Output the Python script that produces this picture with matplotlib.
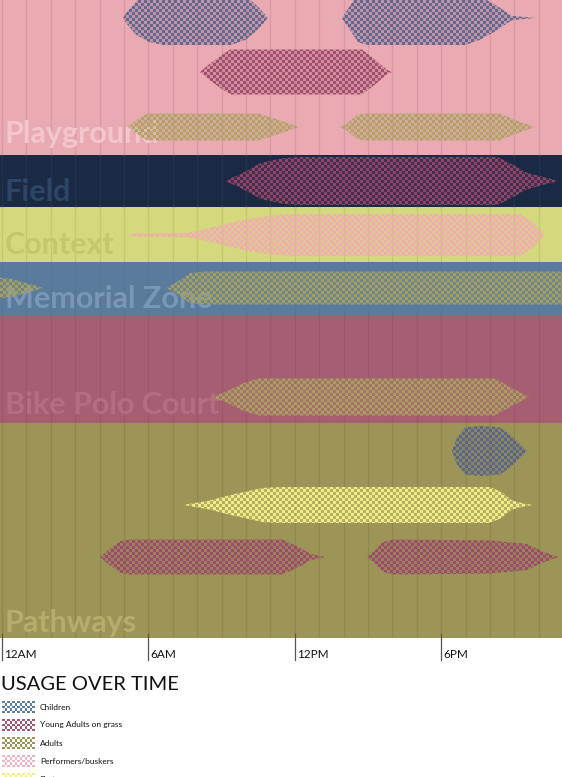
import numpy as np
import matplotlib
matplotlib.use("Agg")
import matplotlib.pyplot as plt
from matplotlib.patches import Polygon
from matplotlib.colors import to_rgba

W, H = 562, 777
PLOT_BOTTOM = 638                      # px from the top where the zone stack ends
HOUR_MIN, HOUR_MAX = -0.08, 22.95      # visible stretch of the day
CELL = 3                               # checker cell size in px

# ---- zones -------------------------------------------------------------
zones = ["Playground", "Field", "Context", "Memorial Zone", "Bike Polo Court", "Pathways"]
zone_edges = [0, 155, 207, 262, 315, 423, 638]
zone_colors = ["#E9AAB2", "#1B2A44", "#D3D97C", "#5B7B9C", "#A65F72", "#9D9558"]
zone_grid_colors = ["#D79AA3", "#22324D", "#C3C96F", "#56769A", "#9C586B", "#8D864D"]
zone_label_colors = ["#F3C6CD", "#2D4667", "#C4C76D", "#7A97B6", "#B36F81", "#B6AD6C"]
zone_label_baselines = [143, 201, 254, 308, 414, 632]

# ---- user groups ---------------------------------------------------------
groups = ["Children", "Young Adults on grass", "Adults", "Performers/buskers", "Skaters"]
group_colors = ["#56628C", "#9C466A", "#AAA35E", "#F5A6BA", "#FBF58A"]
legend_colors = ["#5A7FA6", "#A8566F", "#9C9656", "#EDB6C3", "#F4F07C"]

# ---- usage profiles: hour of day -> relative crowd level -----------------
pg_children_am_hours = [4.96, 5.1, 5.5, 6.0, 6.6, 9.4, 10.0, 10.5, 10.9]
pg_children_am_level = [0.0, 0.2, 0.62, 0.88, 1.0, 1.0, 0.8, 0.42, 0.0]
pg_children_pm_hours = [13.93, 14.3, 14.6, 15.0, 19.0, 19.6, 20.2, 20.9, 21.85]
pg_children_pm_level = [0.0, 0.5, 0.9, 1.0, 1.0, 0.8, 0.5, 0.08, 0.0]
pg_young_hours = [8.11, 8.5, 9.0, 9.35, 14.75, 15.3, 15.78, 15.98]
pg_young_level = [0.0, 0.35, 0.75, 1.0, 1.0, 0.55, 0.1, 0.0]
pg_adults_am_hours = [5.16, 5.5, 5.95, 10.5, 11.3, 12.0, 12.2]
pg_adults_am_level = [0.0, 0.5, 1.0, 1.0, 0.55, 0.1, 0.0]
pg_adults_pm_hours = [13.77, 14.1, 14.55, 14.9, 20.4, 21.0, 21.6, 21.85]
pg_adults_pm_level = [0.0, 0.2, 0.9, 1.0, 1.0, 0.55, 0.15, 0.0]
field_young_hours = [9.14, 9.8, 10.6, 11.5, 12.2, 20.3, 20.9, 21.5, 22.8]
field_young_level = [0.0, 0.3, 0.75, 0.95, 1.0, 1.0, 0.7, 0.35, 0.0]
context_perf_hours = [5.16, 5.5, 7.6, 8.6, 10.0, 11.2, 12.0, 21.2, 21.8, 22.25]
context_perf_level = [0.0, 0.08, 0.1, 0.35, 0.75, 0.95, 1.0, 1.0, 0.6, 0.0]
memorial_adults_night_hours = [-0.2, 0.4, 1.0, 1.7]
memorial_adults_night_level = [0.65, 0.55, 0.3, 0.0]
memorial_adults_day_hours = [6.75, 7.2, 7.7, 8.3, 23.5]
memorial_adults_day_level = [0.0, 0.4, 0.9, 1.0, 1.0]
polo_adults_hours = [8.6, 9.2, 9.9, 10.5, 20.2, 20.8, 21.6]
polo_adults_level = [0.0, 0.3, 0.75, 1.0, 1.0, 0.55, 0.0]
path_children_hours = [18.44, 18.65, 18.98, 19.6, 20.4, 20.9, 21.52]
path_children_level = [0.0, 0.55, 0.95, 1.0, 0.95, 0.6, 0.0]
path_skaters_hours = [7.42, 8.5, 9.5, 10.7, 11.4, 20.0, 20.5, 20.9, 21.4, 21.75]
path_skaters_level = [0.0, 0.25, 0.6, 0.95, 1.0, 1.0, 0.7, 0.25, 0.08, 0.0]
path_young_am_hours = [4.02, 4.4, 4.85, 5.2, 11.5, 12.2, 12.6, 13.24]
path_young_am_level = [0.0, 0.45, 0.9, 1.0, 1.0, 0.55, 0.2, 0.0]
path_young_pm_hours = [14.96, 15.3, 15.6, 16.0, 20.0, 21.5, 22.2, 22.8]
path_young_pm_level = [0.0, 0.4, 0.85, 1.0, 0.95, 0.75, 0.3, 0.0]

# (group index, hours, levels, row centre px, max half-thickness px)
ribbons = [
    (0, pg_children_am_hours, pg_children_am_level, 18, 27),
    (0, pg_children_pm_hours, pg_children_pm_level, 18, 27),
    (1, pg_young_hours, pg_young_level, 72, 22.5),
    (2, pg_adults_am_hours, pg_adults_am_level, 127, 13.5),
    (2, pg_adults_pm_hours, pg_adults_pm_level, 127, 13.5),
    (1, field_young_hours, field_young_level, 181, 24),
    (3, context_perf_hours, context_perf_level, 235, 21),
    (2, memorial_adults_night_hours, memorial_adults_night_level, 288, 16.5),
    (2, memorial_adults_day_hours, memorial_adults_day_level, 288, 16.5),
    (2, polo_adults_hours, polo_adults_level, 397, 18.5),
    (0, path_children_hours, path_children_level, 451, 25),
    (4, path_skaters_hours, path_skaters_level, 505, 18),
    (1, path_young_am_hours, path_young_am_level, 557, 17.5),
    (1, path_young_pm_hours, path_young_pm_level, 557, 17.5),
]

time_ticks = [0, 6, 12, 18]
time_labels = ["12AM", "6AM", "12PM", "6PM"]

plt.rcParams["font.family"] = ["Lato", "DejaVu Sans"]

fig = plt.figure(figsize=(W / 100, H / 100), dpi=100)
fig.patch.set_facecolor("white")

ax = fig.add_axes([0, 1 - PLOT_BOTTOM / H, 1, PLOT_BOTTOM / H])
ax.set_xlim(HOUR_MIN, HOUR_MAX)
ax.set_ylim(PLOT_BOTTOM, 0)
ax.axis("off")

hours_per_px = (HOUR_MAX - HOUR_MIN) / W


def checker_rgba(color, nx, ny, on_alpha=1.0, off_alpha=0.0):
    jj, ii = np.meshgrid(np.arange(nx), np.arange(ny))
    on = (ii + jj) % 2 == 0
    img = np.zeros((ny, nx, 4))
    img[..., :3] = to_rgba(color)[:3]
    img[..., 3] = np.where(on, on_alpha, off_alpha)
    return img


# zone bands, hour grid and zone names
for name, top, bot, bg, gc, lc, base in zip(zones, zone_edges[:-1], zone_edges[1:],
                                            zone_colors, zone_grid_colors,
                                            zone_label_colors, zone_label_baselines):
    ax.axhspan(top, bot, color=bg, lw=0, zorder=0)
    for h in range(0, 24):
        ax.plot([h, h], [top, bot], color=gc, lw=0.9, zorder=1)
    ax.text(0.12, base, name, color=lc, fontsize=22, fontweight="bold",
            ha="left", va="baseline", zorder=2)

# checkered usage ribbons
nx = int(np.ceil(W / CELL)) + 1
ny = int(np.ceil(PLOT_BOTTOM / CELL)) + 1
extent = (HOUR_MIN, HOUR_MIN + nx * CELL * hours_per_px, ny * CELL, 0)
for gi, hrs, lvl, yc, half in ribbons:
    hrs = np.asarray(hrs, float)
    lvl = np.asarray(lvl, float)
    top = yc - lvl * half
    bot = yc + lvl * half
    verts = np.vstack([np.column_stack([hrs, top]),
                       np.column_stack([hrs[::-1], bot[::-1]])])
    poly = Polygon(verts, closed=True, facecolor="none", edgecolor="none")
    ax.add_patch(poly)
    im = ax.imshow(checker_rgba(group_colors[gi], nx, ny, 0.92, 0.28), extent=extent,
                   origin="upper", interpolation="nearest", aspect="auto", zorder=3)
    im.set_clip_path(poly)

ax.set_xlim(HOUR_MIN, HOUR_MAX)
ax.set_ylim(PLOT_BOTTOM, 0)

# time axis
for h, lab in zip(time_ticks, time_labels):
    ax.plot([h, h], [PLOT_BOTTOM - 4, PLOT_BOTTOM + 22], color="#555555", lw=0.9,
            clip_on=False, zorder=4)
    ax.text(h + 0.1, PLOT_BOTTOM + 20, lab, fontsize=8.5, color="#111111",
            ha="left", va="baseline", clip_on=False)

# title and legend
lax = fig.add_axes([0, 0, 1, 1])
lax.set_xlim(0, W)
lax.set_ylim(H, 0)
lax.axis("off")
lax.patch.set_alpha(0)

lax.text(1, 690, "USAGE OVER TIME", fontsize=14.5, fontweight="normal",
         color="#111111", ha="left", va="baseline")

row_y = [707, 725, 743, 761, 779]
for name, col, y in zip(groups, legend_colors, row_y):
    sw = checker_rgba(col, 13, 5)
    sw[sw[..., 3] == 0] = to_rgba("white")
    lax.imshow(sw, extent=(2, 35, y + 6, y - 6), interpolation="nearest",
               aspect="auto", zorder=2)
    lax.text(40, y, name, fontsize=6, color="#111111", ha="left", va="center")
lax.set_xlim(0, W)
lax.set_ylim(H, 0)

fig.savefig("out.png", dpi=100, facecolor="white")
